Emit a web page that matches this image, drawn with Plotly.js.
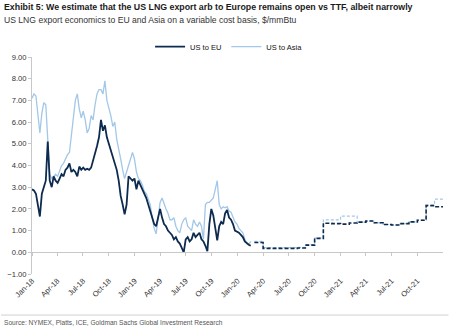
<!DOCTYPE html>
<html>
<head>
<meta charset="utf-8">
<script src="https://cdn.plot.ly/plotly-3.0.1.min.js"></script>
<style>html,body{margin:0;padding:0;background:#fff;}#chart{width:450px;height:329px;}</style>
</head>
<body>
<div id="chart"></div>
<script>
// Weekly historical series starting 2018-01-01
var histStart = '2018-01-01';
var usToEU = [2.9,2.85,2.7,2.2,1.65,2.7,3.0,3.3,5.1,3.3,3.0,3.5,3.3,3.2,3.4,3.6,3.5,3.8,3.9,4.1,3.7,3.8,3.7,3.5,3.95,3.8,3.9,3.8,3.85,3.8,3.9,4.2,4.5,4.9,5.3,6.1,5.6,5.85,5.3,5.0,4.8,4.5,4.2,3.8,3.3,2.6,2.2,1.75,2.2,3.5,3.4,3.3,3.4,2.9,3.3,3.1,2.9,2.7,2.5,2.2,1.9,1.6,1.3,1.2,1.6,2.0,1.6,1.3,1.2,1.0,0.9,0.8,0.6,0.7,0.5,0.4,0.2,0.0,0.6,0.7,0.5,0.6,0.9,0.7,0.8,0.9,0.6,0.5,0.3,0.05,1.3,2.0,1.7,1.0,0.55,1.2,1.4,1.3,1.8,1.95,1.6,1.5,1.3,1.0,0.95,0.9,0.8,0.7,0.5,0.4,0.35,0.3];
var usToAsia = [7.1,7.3,7.2,6.2,5.5,6.4,6.9,6.8,5.0,3.6,3.4,3.5,3.6,3.5,3.8,4.0,4.1,4.3,4.5,4.6,5.3,6.2,7.0,7.3,6.6,6.2,6.5,6.1,5.5,5.7,6.3,6.1,6.8,7.3,7.5,7.5,7.3,7.9,7.0,6.7,6.3,5.8,6.0,5.2,4.8,4.3,3.8,3.4,3.7,4.0,4.2,4.6,4.3,3.7,3.4,3.3,3.1,2.8,2.7,2.4,2.2,1.6,1.1,0.85,1.6,2.3,2.5,2.2,2.0,1.8,1.5,1.5,1.6,1.2,1.0,0.9,1.3,1.5,1.6,1.2,1.1,1.0,1.5,1.3,1.2,1.4,1.2,0.6,2.2,2.3,2.3,2.4,2.5,2.9,3.3,2.2,2.0,2.1,2.05,2.1,1.9,1.85,1.6,1.4,1.3,1.1,1.0,0.9,0.6,0.4,0.35,0.5];

// Monthly forward curve (step)
var fwdMonths = ['2020-03-01','2020-04-01','2020-05-01','2020-06-01','2020-07-01','2020-08-01','2020-09-01','2020-10-01','2020-11-01','2020-12-01','2021-01-01','2021-02-01','2021-03-01','2021-04-01','2021-05-01','2021-06-01','2021-07-01','2021-08-01','2021-09-01','2021-10-01','2021-11-01','2021-12-01','2022-01-01'];
var fwdEU =   [0.45,0.18,0.18,0.18,0.18,0.2,0.33,0.64,1.34,1.32,1.3,1.35,1.39,1.44,1.36,1.28,1.26,1.32,1.40,1.48,2.15,2.1,2.1];
var fwdAsia = [0.5,0.22,0.22,0.22,0.22,0.23,0.35,0.66,1.49,1.49,1.67,1.67,1.39,1.44,1.36,1.28,1.26,1.32,1.40,1.48,2.18,2.45,2.45];

var seriesNames = ['US to EU','US to Asia'];
var titleText = 'Exhibit 5: We estimate that the US LNG export arb to Europe remains open vs TTF, albeit narrowly';
var subtitleText = 'US LNG export economics to EU and Asia on a variable cost basis, $/mmBtu';
var sourceText = 'Source: NYMEX, Platts, ICE, Goldman Sachs Global Investment Research';

var cEU = '#0d2b4e', cAsia = '#a3c7e7';
var WEEK = 7*24*3600*1000;
var FONT = 'Liberation Sans, Arial, sans-serif';

var data = [
  {type:'scatter', mode:'lines', name:seriesNames[1], x0:histStart, dx:WEEK, y:usToAsia,
   line:{color:cAsia, width:1.3}, legendrank:2},
  {type:'scatter', mode:'lines', name:seriesNames[1], x:fwdMonths, y:fwdAsia, showlegend:false,
   line:{color:cAsia, width:1.2, dash:'3px,2px', shape:'hv'}},
  {type:'scatter', mode:'lines', name:seriesNames[0], x0:histStart, dx:WEEK, y:usToEU,
   line:{color:cEU, width:1.8}, legendrank:1},
  {type:'scatter', mode:'lines', name:seriesNames[0], x:fwdMonths, y:fwdEU, showlegend:false,
   line:{color:cEU, width:1.6, dash:'4px,2px', shape:'hv'}},
  {type:'scatter', x:[], y:[], xaxis:'x2', showlegend:false, hoverinfo:'skip'}
];

var tickFont = {family:FONT, size:7.6, color:'#333'};
var PW = 411.8, PH = 216.7;
var layout = {
  width:450, height:329,
  margin:{l:31.7, r:6.5, t:57.3, b:55},
  paper_bgcolor:'#fff', plot_bgcolor:'#fff',
  showlegend:true,
  legend:{orientation:'h', x:(150-31.7)/PW, xanchor:'left', y:1+(57.3-47)/PH, yanchor:'middle',
          font:{family:FONT, size:7.5, color:'#111'}, bgcolor:'rgba(0,0,0,0)', itemwidth:30},
  xaxis:{type:'date', range:['2018-01-01','2021-12-31'], tick0:'2018-01-01', dtick:'M3',
         tickformat:'%b-%y', tickangle:-45, tickfont:tickFont, showgrid:false, zeroline:false,
         showline:false, ticks:'', automargin:false},
  xaxis2:{type:'date', range:['2018-01-01','2021-12-31'], tick0:'2018-01-01', dtick:'M3',
          overlaying:'x', anchor:'free', position:0.1, showticklabels:false, showgrid:false,
          showline:true, linecolor:'#c8c8c8', linewidth:1, ticks:'outside', ticklen:3,
          tickcolor:'#c8c8c8', zeroline:false, automargin:false},
  yaxis:{range:[-1,9], dtick:1, tickformat:'.2f', tickfont:tickFont, showgrid:false,
         zeroline:false, showline:true, linecolor:'#c8c8c8', linewidth:1, ticks:'outside',
         ticklen:3, tickcolor:'#c8c8c8', automargin:false},
  annotations:[
    {xref:'paper', yref:'paper', x:-30/PW, y:1+(57.3-7)/PH, xanchor:'left', yanchor:'middle',
     text:'<b>'+titleText+'</b>', showarrow:false, font:{family:FONT, size:8.8, color:'#1a1a1a'}},
    {xref:'paper', yref:'paper', x:-30/PW, y:1+(57.3-20)/PH, xanchor:'left', yanchor:'middle',
     text:subtitleText, showarrow:false, font:{family:FONT, size:8.6, color:'#333'}},
    {xref:'paper', yref:'paper', x:-30/PW, y:-(322-274)/PH, xanchor:'left', yanchor:'middle',
     text:sourceText, showarrow:false, font:{family:FONT, size:6.6, color:'#555'}}
  ],
  shapes:[
    {type:'line', xref:'paper', yref:'paper', x0:-31/PW, x1:1+5.5/PW,
     y0:-(315-274)/PH, y1:-(315-274)/PH, line:{color:'#cfcfcf', width:1}}
  ]
};
Plotly.newPlot('chart', data, layout, {displayModeBar:false, staticPlot:true});
</script>
</body>
</html>
